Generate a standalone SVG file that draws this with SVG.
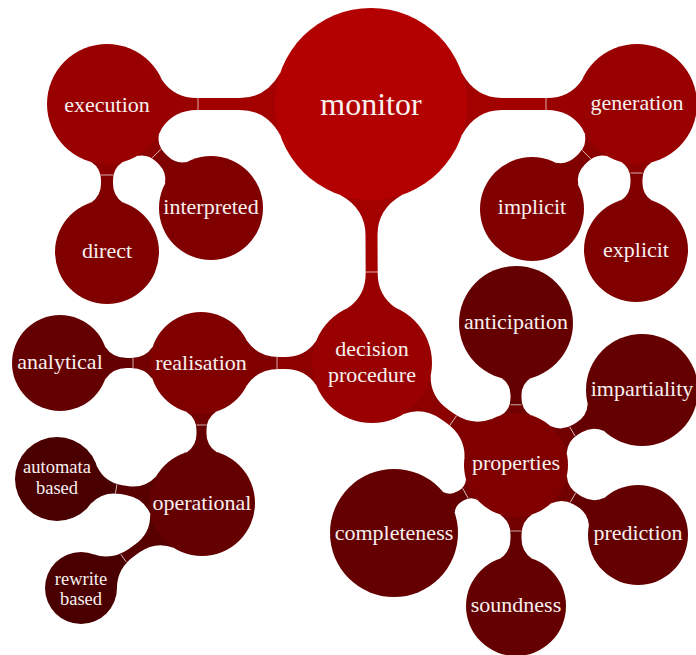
<svg xmlns="http://www.w3.org/2000/svg" width="696" height="655" viewBox="0 0 696 655">
<style>
.lbl text{font-family:"Liberation Serif","Times New Roman",serif;fill:#f7f0f0;text-anchor:middle;font-size:22px}
.lbl .t0{font-size:32px}
.lbl .t4{font-size:18.5px}
.l0{fill:#b30000}.l1{fill:#990000}.l2{fill:#800000}.l3{fill:#640000}.l4{fill:#4a0000}
.seam{stroke:#ffffff;stroke-width:0.8;stroke-opacity:0.85}
.c01{fill:url(#g01)}.c12{fill:url(#g12)}.c23{fill:url(#g23)}.c34{fill:url(#g34)}
</style>
<defs>
<linearGradient id="g01" gradientUnits="userSpaceOnUse" x1="-1" y1="0" x2="1" y2="0"><stop offset="0" stop-color="#a30000"/><stop offset="0.5" stop-color="#a30000"/><stop offset="0.5" stop-color="#990000"/><stop offset="1" stop-color="#990000"/></linearGradient>
<linearGradient id="g12" gradientUnits="userSpaceOnUse" x1="-1" y1="0" x2="1" y2="0"><stop offset="0" stop-color="#8c0000"/><stop offset="0.5" stop-color="#8c0000"/><stop offset="0.5" stop-color="#800000"/><stop offset="1" stop-color="#800000"/></linearGradient>
<linearGradient id="g23" gradientUnits="userSpaceOnUse" x1="-1" y1="0" x2="1" y2="0"><stop offset="0" stop-color="#720000"/><stop offset="0.5" stop-color="#720000"/><stop offset="0.5" stop-color="#640000"/><stop offset="1" stop-color="#640000"/></linearGradient>
<linearGradient id="g34" gradientUnits="userSpaceOnUse" x1="-1" y1="0" x2="1" y2="0"><stop offset="0" stop-color="#570000"/><stop offset="0.5" stop-color="#570000"/><stop offset="0.5" stop-color="#4a0000"/><stop offset="1" stop-color="#4a0000"/></linearGradient>
</defs>
<g id="connectors">
<g transform="translate(198,104) rotate(180)"><path class="c01" d="M-82.14,31 Q-68.09,6 -42,6 L1,6 Q23.76,6 36,24 L36,-24 Q23.76,-6 1,-6 L-42,-6 Q-68.09,-6 -82.14,-31Z"/><line class="seam" x1="0" y1="-6" x2="0" y2="6"/></g>
<g transform="translate(546,104)"><path class="c01" d="M-84.14,31 Q-70.09,6 -44,6 L1,6 Q23.76,6 36,24 L36,-24 Q23.76,-6 1,-6 L-44,-6 Q-70.09,-6 -84.14,-31Z"/><line class="seam" x1="0" y1="-6" x2="0" y2="6"/></g>
<g transform="translate(371.65,272) rotate(89.78)"><path class="c01" d="M-77.14,31 Q-63.09,6 -37,6 L1,6 Q23.76,6 36,24 L36,-24 Q23.76,-6 1,-6 L-37,-6 Q-63.09,-6 -77.14,-31Z"/><line class="seam" x1="0" y1="-6" x2="0" y2="6"/></g>
<g transform="translate(107,175) rotate(90)"><path class="c12" d="M-13.09,15.7 Q-6.69,6 5.2,6 L8.8,6 Q20.91,6 27.43,15.7 L27.43,-15.7 Q20.91,-6 8.8,-6 L5.2,-6 Q-6.69,-6 -13.09,-15.7Z"/><line class="seam" x1="0" y1="-6" x2="0" y2="6"/></g>
<g transform="translate(156.55,153.55) rotate(45)"><path class="c12" d="M-12.11,15.47 Q-5.87,6 5.71,6 L9.21,6 Q21,6 27.35,15.47 L27.35,-15.47 Q21,-6 9.21,-6 L5.71,-6 Q-5.87,-6 -12.11,-15.47Z"/><line class="seam" x1="0" y1="-6" x2="0" y2="6"/></g>
<g transform="translate(586.45,154.55) rotate(135)"><path class="c12" d="M-13.62,15.85 Q-7.13,6 4.93,6 L8.58,6 Q20.86,6 27.47,15.85 L27.47,-15.85 Q20.86,-6 8.58,-6 L4.93,-6 Q-7.13,-6 -13.62,-15.85Z"/><line class="seam" x1="0" y1="-6" x2="0" y2="6"/></g>
<g transform="translate(636.53,173) rotate(90.39)"><path class="c12" d="M-10.95,15.18 Q-4.91,6 6.3,6 L9.7,6 Q21.11,6 27.26,15.18 L27.26,-15.18 Q21.11,-6 9.7,-6 L6.3,-6 Q-4.91,-6 -10.95,-15.18Z"/><line class="seam" x1="0" y1="-6" x2="0" y2="6"/></g>
<g transform="translate(277,363) rotate(180)"><path class="c12" d="M-39.26,22.2 Q-28.32,6 -8,6 L-2,6 Q18.85,6 30.08,22.2 L30.08,-22.2 Q18.85,-6 -2,-6 L-8,-6 Q-28.32,-6 -39.26,-22.2Z"/><line class="seam" x1="0" y1="-6" x2="0" y2="6"/></g>
<g transform="translate(453.2,420.5) rotate(35.31)"><path class="c12" d="M-44.22,23.4 Q-32.41,6 -10.47,6 L-4,6 Q18.46,6 30.56,23.4 L30.56,-23.4 Q18.46,-6 -4,-6 L-10.47,-6 Q-32.41,-6 -44.22,-23.4Z"/><line class="seam" x1="0" y1="-6" x2="0" y2="6"/></g>
<g transform="translate(133,363) rotate(180)"><path class="c23" d="M-19.69,16.34 Q-12.13,5 1.9,5 L6.1,5 Q20.25,5 27.87,16.34 L27.87,-16.34 Q20.25,-5 6.1,-5 L1.9,-5 Q-12.13,-5 -19.69,-16.34Z"/><line class="seam" x1="0" y1="-5" x2="0" y2="5"/></g>
<g transform="translate(201.44,425) rotate(89.59)"><path class="c23" d="M-13.17,14.72 Q-6.74,5 5.2,5 L8.8,5 Q20.69,5 27.09,14.72 L27.09,-14.72 Q20.69,-5 8.8,-5 L5.2,-5 Q-6.74,-5 -13.17,-14.72Z"/><line class="seam" x1="0" y1="-5" x2="0" y2="5"/></g>
<g transform="translate(116.2,488.8) rotate(189.4)"><path class="c34" d="M-37.32,18.54 Q-27.96,4.5 -10.57,4.5 L-5.4,4.5 Q12.61,4.5 22.31,18.54 L22.31,-18.54 Q12.61,-4.5 -5.4,-4.5 L-10.57,-4.5 Q-27.96,-4.5 -37.32,-18.54Z"/><line class="seam" x1="0" y1="-4.5" x2="0" y2="4.5"/></g>
<g transform="translate(123.5,558.1) rotate(144.91)"><path class="c34" d="M-46.95,20.4 Q-36.25,4.5 -16.37,4.5 L-10.5,4.5 Q10.85,4.5 22.34,20.4 L22.34,-20.4 Q10.85,-4.5 -10.5,-4.5 L-16.37,-4.5 Q-36.25,-4.5 -46.95,-20.4Z"/><line class="seam" x1="0" y1="-4.5" x2="0" y2="4.5"/></g>
<g transform="translate(516,404.75) rotate(-90)"><path class="c23" d="M-10.29,14.41 Q-4.38,5.5 6.6,5.5 L9.9,5.5 Q20.75,5.5 26.6,14.41 L26.6,-14.41 Q20.75,-5.5 9.9,-5.5 L6.6,-5.5 Q-4.38,-5.5 -10.29,-14.41Z"/><line class="seam" x1="0" y1="-5.5" x2="0" y2="5.5"/></g>
<g transform="translate(572.4,431.4) rotate(-30.76)"><path class="c23" d="M-16.13,15.93 Q-9.17,5.5 3.75,5.5 L7.62,5.5 Q20.42,5.5 27.31,15.93 L27.31,-15.93 Q20.42,-5.5 7.62,-5.5 L3.75,-5.5 Q-9.17,-5.5 -16.13,-15.93Z"/><line class="seam" x1="0" y1="-5.5" x2="0" y2="5.5"/></g>
<g transform="translate(572.9,497.7) rotate(29.85)"><path class="c23" d="M-16.16,15.94 Q-9.19,5.5 3.74,5.5 L7.6,5.5 Q20.61,5.5 27.61,15.94 L27.61,-15.94 Q20.61,-5.5 7.6,-5.5 L3.74,-5.5 Q-9.19,-5.5 -16.16,-15.94Z"/><line class="seam" x1="0" y1="-5.5" x2="0" y2="5.5"/></g>
<g transform="translate(516,531) rotate(90)"><path class="c23" d="M-16.53,16.03 Q-9.5,5.5 3.55,5.5 L7.45,5.5 Q20.57,5.5 27.64,16.03 L27.64,-16.03 Q20.57,-5.5 7.45,-5.5 L3.55,-5.5 Q-9.5,-5.5 -16.53,-16.03Z"/><line class="seam" x1="0" y1="-5.5" x2="0" y2="5.5"/></g>
<g transform="translate(465.4,493.2) rotate(150.86)"><path class="c23" d="M-7.3,11.89 Q-3.09,5.5 4.73,5.5 L7.1,5.5 Q14.74,5.5 18.86,11.89 L18.86,-11.89 Q14.74,-5.5 7.1,-5.5 L4.73,-5.5 Q-3.09,-5.5 -7.3,-11.89Z"/><line class="seam" x1="0" y1="-5.5" x2="0" y2="5.5"/></g>
</g>
<g class="lbl">
<g id="monitor"><circle class="l0" cx="371" cy="104" r="96"/><text class="t0" x="371" y="115">monitor</text></g>
<g id="execution"><circle class="l1" cx="107" cy="104" r="60"/><text x="107" y="112">execution</text></g>
<g id="generation"><circle class="l1" cx="637" cy="104" r="60"/><text x="637" y="110">generation</text></g>
<g id="decision-procedure"><circle class="l1" cx="372" cy="363" r="60"/><text x="372" y="355.5">decision</text><text x="372" y="382">procedure</text></g>
<g id="direct"><circle class="l2" cx="107" cy="252" r="52"/><text x="107" y="258">direct</text></g>
<g id="interpreted"><circle class="l2" cx="211" cy="208" r="52"/><text x="211" y="214">interpreted</text></g>
<g id="implicit"><circle class="l2" cx="532" cy="209" r="52"/><text x="532" y="214">implicit</text></g>
<g id="explicit"><circle class="l2" cx="636" cy="250" r="52"/><text x="636" y="256.5">explicit</text></g>
<g id="realisation"><circle class="l2" cx="201" cy="363" r="51"/><text x="201" y="370">realisation</text></g>
<g id="properties"><circle class="l2" cx="516" cy="465" r="52"/><text x="516" y="469.5">properties</text></g>
<g id="analytical"><circle class="l3" cx="60" cy="363" r="48"/><text x="60" y="368.5">analytical</text></g>
<g id="operational"><circle class="l3" cx="202" cy="503" r="53"/><text x="202" y="509.5">operational</text></g>
<g id="anticipation"><circle class="l3" cx="516" cy="323" r="57"/><text x="516" y="328.5">anticipation</text></g>
<g id="impartiality"><circle class="l3" cx="642" cy="390" r="56"/><text x="642" y="395.5">impartiality</text></g>
<g id="prediction"><circle class="l3" cx="638" cy="535" r="50"/><text x="638" y="539.5">prediction</text></g>
<g id="soundness"><circle class="l3" cx="516" cy="606" r="50"/><text x="516" y="612">soundness</text></g>
<g id="completeness"><circle class="l3" cx="394" cy="533" r="64"/><text x="394" y="539.5">completeness</text></g>
<g id="automata-based"><circle class="l4" cx="57" cy="479" r="42"/><text class="t4" x="57" y="473">automata</text><text class="t4" x="57" y="494">based</text></g>
<g id="rewrite-based"><circle class="l4" cx="81" cy="588" r="36"/><text class="t4" x="81" y="584.5">rewrite</text><text class="t4" x="81" y="605">based</text></g>
</g>
</svg>
